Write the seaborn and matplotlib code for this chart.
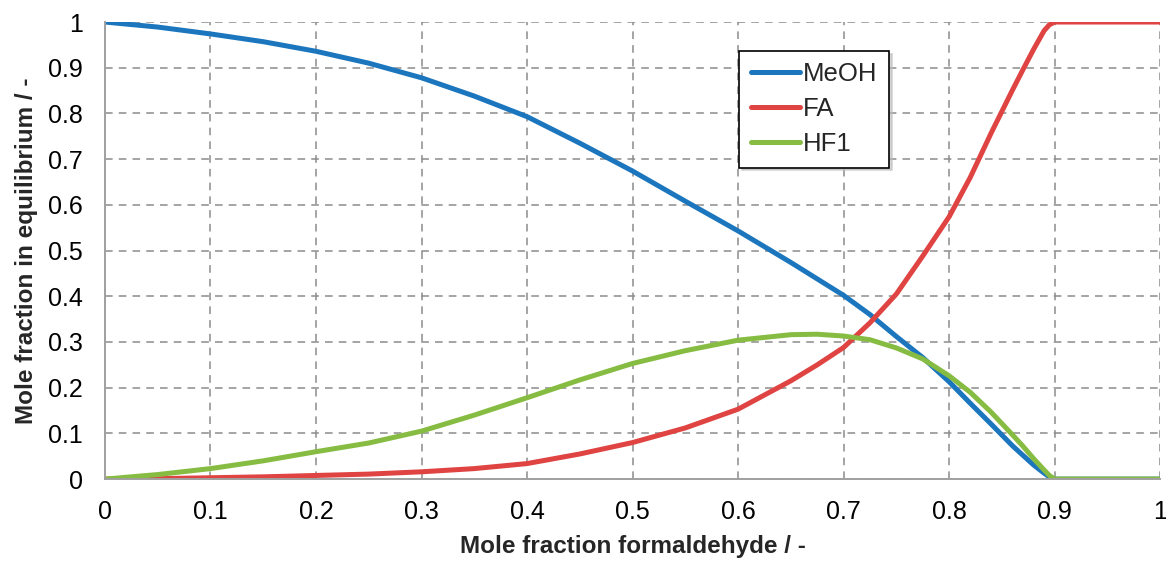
import matplotlib
matplotlib.use("Agg")
import matplotlib.pyplot as plt
import seaborn as sns
import pandas as pd

x_formaldehyde = [0.0, 0.05, 0.1, 0.15, 0.2, 0.25, 0.3, 0.35, 0.4, 0.45, 0.5, 0.55,
                  0.6, 0.65, 0.675, 0.7, 0.725, 0.75, 0.775, 0.8, 0.82, 0.84, 0.86,
                  0.87, 0.88, 0.89, 0.895, 0.9, 1.0]
meoh = [1.0, 0.989, 0.974, 0.957, 0.936, 0.910, 0.878, 0.838, 0.793, 0.735, 0.674, 0.608,
        0.543, 0.474, 0.438, 0.402, 0.36, 0.312, 0.266, 0.213, 0.166, 0.12, 0.073,
        0.052, 0.031, 0.013, 0.005, 0.0, 0.0]
fa = [0.0, 0.001, 0.003, 0.005, 0.008, 0.011, 0.016, 0.023, 0.034, 0.055, 0.08, 0.112,
      0.153, 0.215, 0.25, 0.288, 0.342, 0.405, 0.488, 0.574, 0.66, 0.758, 0.851,
      0.896, 0.94, 0.981, 0.994, 1.0, 1.0]
hf1 = [0.0, 0.01, 0.023, 0.04, 0.06, 0.079, 0.105, 0.14, 0.178, 0.217, 0.253, 0.281,
       0.304, 0.316, 0.317, 0.313, 0.305, 0.287, 0.263, 0.226, 0.19, 0.146, 0.097,
       0.072, 0.045, 0.02, 0.008, 0.0, 0.0]
series_names = ["MeOH", "FA", "HF1"]
series_colors = ["#1C76BE", "#DF4342", "#86BC42"]

x_ticks = [0, 0.1, 0.2, 0.3, 0.4, 0.5, 0.6, 0.7, 0.8, 0.9, 1]
y_ticks = [0, 0.1, 0.2, 0.3, 0.4, 0.5, 0.6, 0.7, 0.8, 0.9, 1]
tick_labels = ["0", "0.1", "0.2", "0.3", "0.4", "0.5", "0.6", "0.7", "0.8", "0.9", "1"]

rows = []
for name, vals in zip(series_names, [meoh, fa, hf1]):
    for xv, yv in zip(x_formaldehyde, vals):
        rows.append({"x": xv, "y": yv, "Species": name})
df = pd.DataFrame(rows)

sns.set_theme(style="white")
plt.rcParams["font.family"] = ["Liberation Sans", "DejaVu Sans"]

fig = plt.figure(figsize=(11.66, 5.65), dpi=100)
ax = fig.add_axes([0.090, 0.152, 0.905, 0.809])

sns.lineplot(data=df, x="x", y="y", hue="Species", hue_order=series_names,
             palette=series_colors, linewidth=3.6, ax=ax, sort=True, estimator=None,
             solid_joinstyle="round", solid_capstyle="round")

ax.set_xlim(0, 1)
ax.set_ylim(0, 1)
ax.set_xticks(x_ticks)
ax.set_yticks(y_ticks)
ax.set_xticklabels(tick_labels)
ax.set_yticklabels(tick_labels)
ax.tick_params(axis="both", labelsize=18, colors="#999999", labelcolor="black",
               direction="out", length=6, width=1.2)
ax.tick_params(axis="x", pad=9)
ax.tick_params(axis="y", pad=10)

ax.grid(True, linestyle=(0, (5, 4)), color="#8c8c8c", linewidth=1.1)
ax.set_axisbelow(True)
for s in ["top", "right"]:
    ax.spines[s].set_visible(False)
for s in ["left", "bottom"]:
    ax.spines[s].set_color("#a0a0a0")
    ax.spines[s].set_linewidth(1.4)

ax.set_xlabel("Mole fraction formaldehyde / -", fontsize=17.5, fontweight="bold", labelpad=8)
ax.set_ylabel("Mole fraction in equilibrium / -", fontsize=17.5, fontweight="bold", labelpad=7)

leg = ax.legend(loc="upper left", bbox_to_anchor=(0.601, 0.937), fontsize=18.5,
                frameon=True, fancybox=False, shadow={"color": "#bbbbbb", "alpha": 0.6},
                edgecolor="black", handlelength=1.9, handletextpad=0.15,
                borderpad=0.45, labelspacing=0.42, borderaxespad=0)
leg.get_frame().set_linewidth(1.2)
for line in leg.get_lines():
    line.set_linewidth(3.6)

fig.savefig("out.png", dpi=100)
